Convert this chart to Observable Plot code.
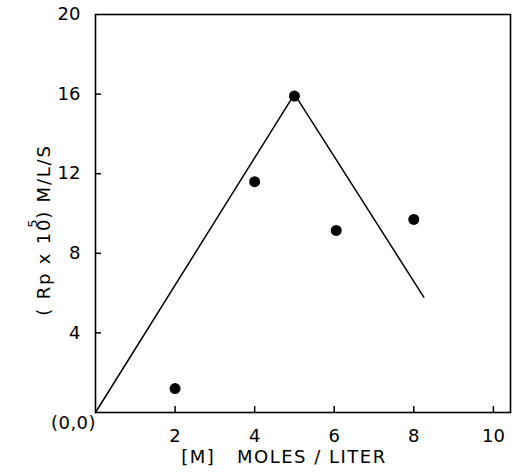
<!DOCTYPE html>
<html>
<head>
<meta charset="utf-8">
<script src="https://cdn.jsdelivr.net/npm/d3@7"></script>
<script src="https://cdn.jsdelivr.net/npm/@observablehq/plot@0.6"></script>
<style>
  html, body { margin: 0; padding: 0; background: white; }
</style>
</head>
<body>
<div id="chart"></div>
<script>
// Data
const xTicks = [2, 4, 6, 8, 10];
const yTicks = [4, 8, 12, 16, 20];
const yTickMarks = [4, 8, 12, 16];
const pointX = [2, 4, 5, 6.05, 8];
const pointY = [1.2, 11.6, 15.9, 9.15, 9.7];
const lineX = [0, 5, 8.25];
const lineY = [0, 16, 5.8];
const originLabel = "(0,0)";
const xLabel = "[M]\u00a0\u00a0\u00a0MOLES / LITER";

const points = pointX.map((x, i) => ({x, y: pointY[i]}));
const line = lineX.map((x, i) => ({x, y: lineY[i]}));

const font = "'DejaVu Sans', sans-serif";

const plot = Plot.plot({
  width: 513,
  height: 473,
  marginLeft: 95,
  marginRight: 3,
  marginTop: 14,
  marginBottom: 61,
  x: {domain: [0, 10.43]},
  y: {domain: [0, 20]},
  style: {fontFamily: font, fontSize: "18px", color: "black", background: "white", overflow: "visible"},
  marks: [
    Plot.frame({stroke: "black", strokeWidth: 1.6}),
    Plot.axisX(xTicks, {tickSize: 0, tickPadding: 17, label: null, fontSize: 18}),
    Plot.ruleX(xTicks, {x: d => d, y1: 0, y2: 0.3, stroke: "black", strokeWidth: 1.5}),
    Plot.axisY(yTicks, {tickSize: 0, tickPadding: 15, label: null, fontSize: 18}),
    Plot.ruleY(yTickMarks, {y: d => d, x1: 0, x2: 0.15, stroke: "black", strokeWidth: 1.5}),
    Plot.line(line, {x: "x", y: "y", stroke: "black", strokeWidth: 1.5}),
    Plot.dot(points, {x: "x", y: "y", r: 5.5, fill: "black", stroke: "none"}),
    Plot.text([originLabel], {text: d => d, frameAnchor: "bottom-left", textAnchor: "middle", dx: -22, dy: 16, fontSize: 18}),
    Plot.text([xLabel], {text: d => d, frameAnchor: "bottom", textAnchor: "middle", dx: -19, dy: 50, fontSize: 18})
  ]
});

document.getElementById("chart").appendChild(plot);

const svg = d3.select(plot);
svg.selectAll("text").filter(function() { return this.textContent === xLabel; }).attr("letter-spacing", 1.5);
svg.selectAll("text").filter(function() { return this.textContent === originLabel; }).attr("letter-spacing", 0.5);

// Rotated y-axis label with superscript
const t = svg.append("text")
  .attr("transform", "translate(50,230) rotate(-90)")
  .attr("text-anchor", "middle")
  .attr("font-family", font)
  .attr("font-size", 18)
  .attr("fill", "black")
  .attr("letter-spacing", 1.8);
t.append("tspan").text("(\u00a0Rp\u00a0x\u00a010");
t.append("tspan").attr("font-size", 13).attr("dx", -10).attr("dy", -13).text("5");
t.append("tspan").attr("dx", -1).attr("dy", 13).text(")\u00a0M/L/S");
</script>
</body>
</html>
